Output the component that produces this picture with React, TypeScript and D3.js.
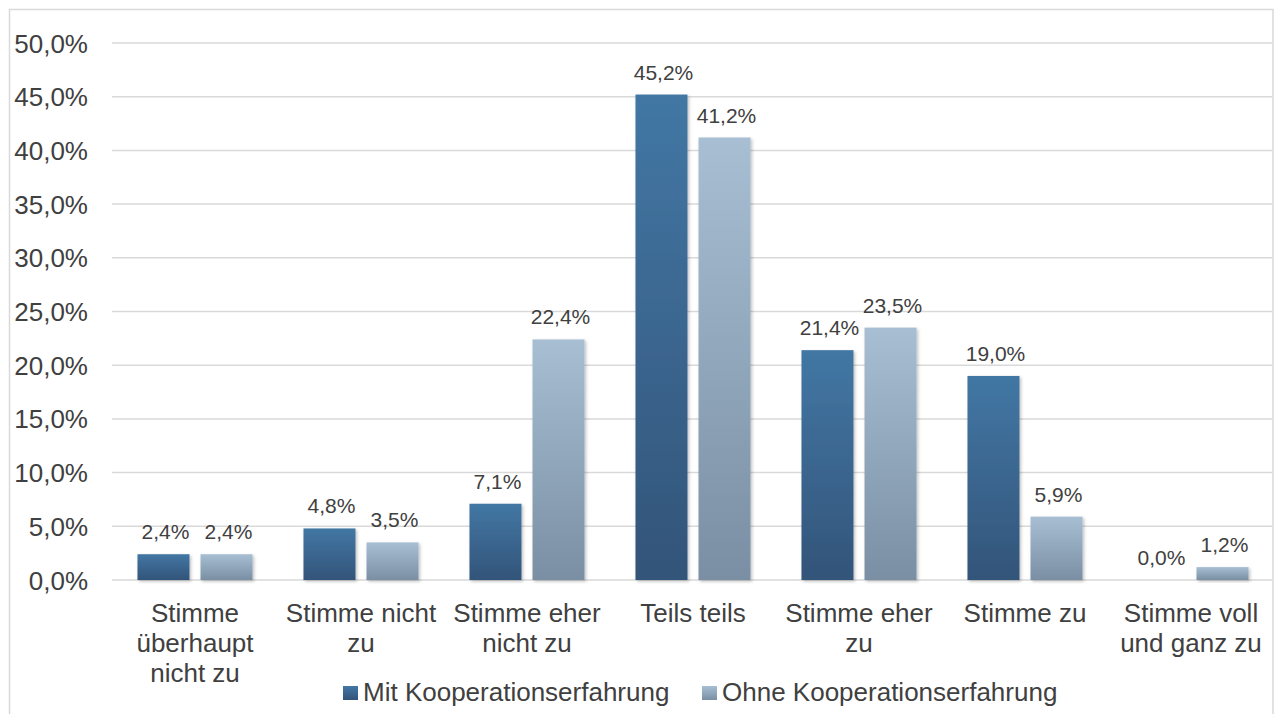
import { useEffect } from "react"
import * as d3 from "d3"

// categories (line breaks as in the original axis labels)
const categories = [
  ["Stimme", "überhaupt", "nicht zu"],
  ["Stimme nicht", "zu"],
  ["Stimme eher", "nicht zu"],
  ["Teils teils"],
  ["Stimme eher", "zu"],
  ["Stimme zu"],
  ["Stimme voll", "und ganz zu"],
]
const seriesNames = ["Mit Kooperationserfahrung", "Ohne Kooperationserfahrung"]
const mitValues = [2.4, 4.8, 7.1, 45.2, 21.4, 19.0, 0.0]
const ohneValues = [2.4, 3.5, 22.4, 41.2, 23.5, 5.9, 1.2]
const yTicks = [0, 5, 10, 15, 20, 25, 30, 35, 40, 45, 50]

const W = 1275
const H = 714
const textColor = "#404040"
const gridColor = "#d9d9d9"
const font = "'Liberation Sans', Arial, sans-serif"

const fmt = (v: number) => v.toFixed(1).replace(".", ",") + "%"

export default function App() {
  useEffect(() => {
    document.body.style.margin = "0"
    document.body.style.overflow = "hidden"
  }, [])

  const catIdx = categories.map((_, i) => String(i))
  const x0 = d3.scaleBand().domain(catIdx).range([112, 1274]).paddingInner(0.307).paddingOuter(0.1535)
  const x1 = d3.scaleBand().domain(seriesNames).range([0, x0.bandwidth()]).paddingInner(0.175)
  const y = d3.scaleLinear().domain([0, 50]).range([580, 43])

  const series = [
    { name: seriesNames[0], values: mitValues, fill: "url(#gradDark)" },
    { name: seriesNames[1], values: ohneValues, fill: "url(#gradLight)" },
  ]

  const legend = [
    { name: seriesNames[0], x: 343, fill: "url(#gradDark)" },
    { name: seriesNames[1], x: 702, fill: "url(#gradLight)" },
  ]

  return (
    <svg width={W} height={H} style={{ display: "block", fontFamily: font }}>
      <defs>
        <linearGradient id="gradDark" x1="0" y1="0" x2="0" y2="1">
          <stop offset="0%" stopColor="#4277a4" />
          <stop offset="100%" stopColor="#335479" />
        </linearGradient>
        <linearGradient id="gradLight" x1="0" y1="0" x2="0" y2="1">
          <stop offset="0%" stopColor="#a7bed3" />
          <stop offset="100%" stopColor="#7a8fa4" />
        </linearGradient>
        <filter id="shadow" x="-20%" y="-20%" width="140%" height="140%">
          <feDropShadow dx="1.5" dy="1.5" stdDeviation="1.5" floodColor="#000" floodOpacity="0.25" />
        </filter>
      </defs>

      <rect x={0} y={0} width={W} height={H} fill="#fff" />
      <rect x={9.5} y={9.5} width={1263.5} height={H} fill="#fff" stroke={gridColor} strokeWidth={1.5} />

      {/* grid + y tick labels */}
      {yTicks.map((t) => (
        <g key={t}>
          <line x1={112} x2={1272} y1={y(t)} y2={y(t)} stroke={gridColor} strokeWidth={1.5} />
          <text x={88} y={y(t) + 9.5} textAnchor="end" fontSize={26} fill={textColor}>
            {fmt(t)}
          </text>
        </g>
      ))}

      {/* bars */}
      {series.map((s) =>
        s.values.map((v, i) => {
          const bx = (x0(String(i)) ?? 0) + (x1(s.name) ?? 0)
          const bw = x1.bandwidth()
          return (
            <g key={s.name + i}>
              {v > 0 && (
                <rect
                  x={bx}
                  y={y(v)}
                  width={bw}
                  height={y(0) - y(v)}
                  fill={s.fill}
                  filter="url(#shadow)"
                />
              )}
              <text x={bx + bw / 2 + 2} y={y(v) - 15} textAnchor="middle" fontSize={21} fill={textColor}>
                {fmt(v)}
              </text>
            </g>
          )
        })
      )}

      {/* category labels */}
      {categories.map((lines, i) => {
        const cx = (x0(String(i)) ?? 0) + x0.bandwidth() / 2
        return (
          <text key={i} x={cx} y={622} textAnchor="middle" fontSize={26} fill={textColor}>
            {lines.map((l, j) => (
              <tspan key={j} x={cx} dy={j === 0 ? 0 : 30}>
                {l}
              </tspan>
            ))}
          </text>
        )
      })}

      {/* legend */}
      {legend.map((l) => (
        <g key={l.name}>
          <rect x={l.x} y={686} width={15} height={14} fill={l.fill} />
          <text x={l.x + 20} y={701} fontSize={26} fill={textColor}>
            {l.name}
          </text>
        </g>
      ))}
    </svg>
  )
}
